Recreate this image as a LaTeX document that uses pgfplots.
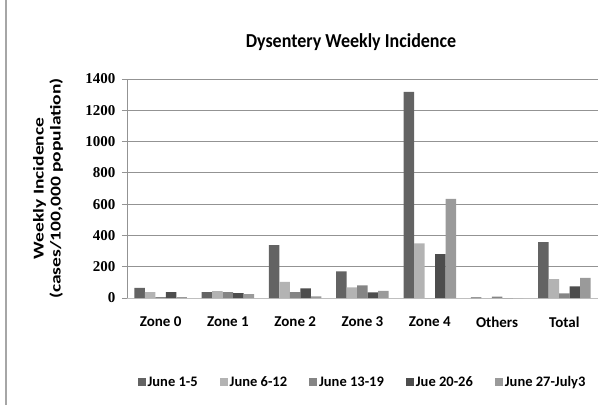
\documentclass[border=0pt]{standalone}
\usepackage{pgfplots}
\pgfplotsset{compat=1.18}
\usepackage{graphicx}
\usepackage{fontspec}
\setmainfont{Carlito}
\newfontfamily\tickfont{Liberation Serif}
\definecolor{cA}{HTML}{636363}
\definecolor{cB}{HTML}{B3B3B3}
\definecolor{cC}{HTML}{858585}
\definecolor{cD}{HTML}{4D4D4D}
\definecolor{cE}{HTML}{9A9A9A}
\begin{document}
\begin{tikzpicture}[x=1pt,y=1pt]
\useasboundingbox (0,0) rectangle (611,405);
\draw[gray!70, line width=1.5pt] (6,0) -- (6,405);
\node[font=\bfseries\fontsize{18}{20}\selectfont] at (351,363) {\scalebox{1.0}[1.1]{Dysentery Weekly Incidence}};
\begin{axis}[
  at={(127pt,107pt)}, anchor=south west,
  scale only axis, width=471pt, height=219pt,
  ybar=0pt, bar width=10.5pt,
  xmin=-0.5, xmax=6.5, ymin=0, ymax=1400,
  xtick={0,1,2,3,4,5,6},
  xticklabels={Zone 0,Zone 1,Zone 2,Zone 3,Zone 4,Others,Total},
  xticklabel style={font=\bfseries\fontsize{15}{17}\selectfont, yshift=-10pt},
  ytick={0,200,400,600,800,1000,1200,1400},
  yticklabel style={font=\tickfont\bfseries\fontsize{15}{17}\selectfont, xshift=-3pt},
  /pgf/number format/assume math mode=true,
  /pgf/number format/1000 sep={},
  scaled y ticks=false,
  ymajorgrids, grid style={draw=gray!85, line width=0.8pt},
  axis x line*=bottom, axis y line*=left,
  x axis line style={draw=gray!50, line width=0.8pt},
  y axis line style={draw=gray!85, line width=0.8pt},
  xtick style={draw=none},
  ytick style={draw=gray!85, line width=0.8pt},
  tick align=outside, major tick length=5pt,
  ylabel={\scalebox{1.3}[1]{\begin{tabular}{@{}c@{}}Weekly Incidence\\(cases/100,000 population)\end{tabular}}},
  ylabel style={font=\bfseries\fontsize{15}{17}\selectfont, at={(axis description cs:-0.166,0.5)}, anchor=center},
  legend columns=5,
  legend style={at={(0.5,-0.384)}, anchor=center, draw=none, font=\bfseries\fontsize{14.5}{16}\selectfont,
    /tikz/every even column/.append style={column sep=20pt}},
  legend image code/.code={\fill[#1] (0pt,-4pt) rectangle (8pt,4pt);},
]
\addplot[fill=cA, draw=none] coordinates {(0,64) (1,38) (2,338) (3,171) (4,1318) (5,4) (6,357)};
\addplot[fill=cB, draw=none] coordinates {(0,38) (1,44) (2,103) (3,68) (4,350) (5,0) (6,120)};
\addplot[fill=cC, draw=none] coordinates {(0,5) (1,38) (2,38) (3,81) (4,0) (5,8) (6,30)};
\addplot[fill=cD, draw=none] coordinates {(0,38) (1,31) (2,62) (3,36) (4,280) (5,0) (6,75)};
\addplot[fill=cE, draw=none] coordinates {(0,5) (1,25) (2,11) (3,45) (4,633) (5,0) (6,128)};
\legend{June 1-5,June 6-12,June 13-19,Jue 20-26,June 27-July3}
\end{axis}
\end{tikzpicture}
\end{document}
